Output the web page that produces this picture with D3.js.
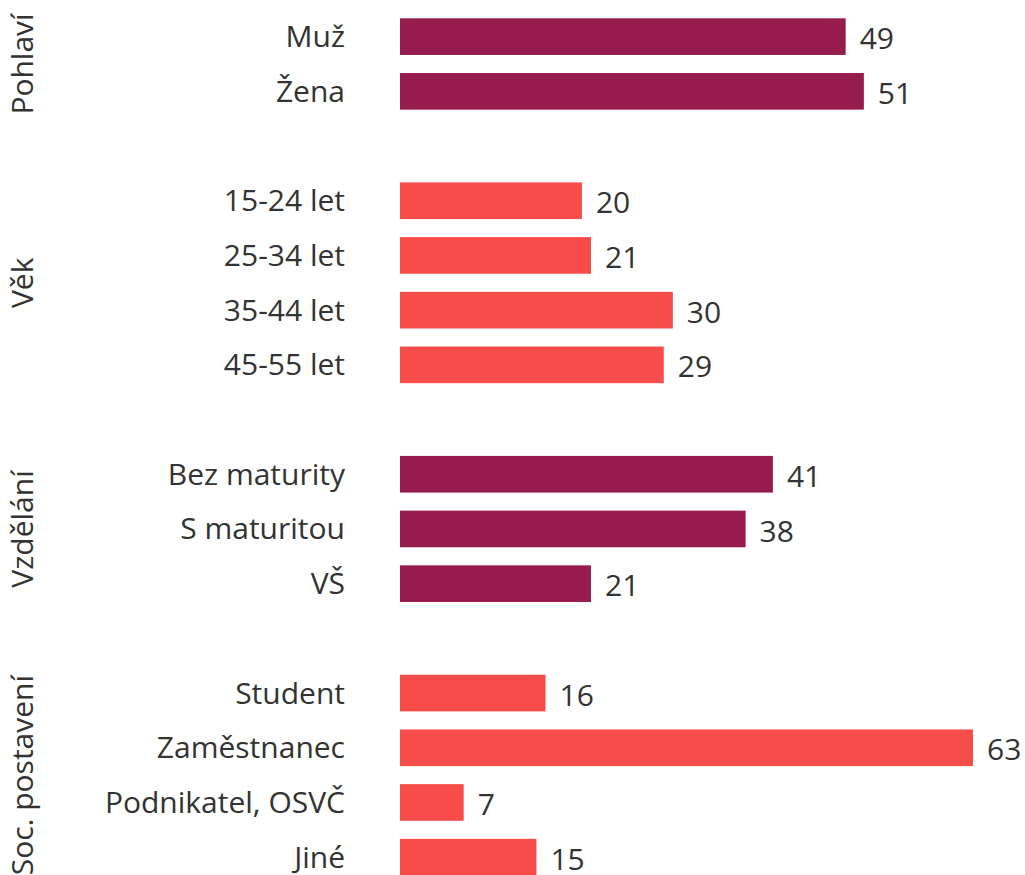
<!DOCTYPE html>
<html>
<head>
<meta charset="utf-8">
<script src="https://cdn.jsdelivr.net/npm/d3@7"></script>
<style>
	body{margin:0;background:#fff;}
	text{font-family:"Open Sans","Noto Sans",sans-serif;fill:#333;}
</style>
</head>
<body>
<div id="chart"></div>
<script>
//survey profile - horizontal bars per group
var groups=["Pohlaví","Věk","Vzdělání","Soc. postavení"];
var groupColors=["#961c50","#f64c4a","#961c50","#f64c4a"];
var pohlaviLabels=["Muž","Žena"];
var pohlaviValues=[49,51];
var vekLabels=["15-24 let","25-34 let","35-44 let","45-55 let"];
var vekValues=[20,21,30,29];
var vzdelaniLabels=["Bez maturity","S maturitou","VŠ"];
var vzdelaniValues=[41,38,21];
var socLabels=["Student","Zaměstnanec","Podnikatel, OSVČ","Jiné"];
var socValues=[16,63,7,15];

var width=1025,height=875;
var fontSize=30;

//build rows, one empty row between groups
var rows=[];
var groupRows=[];
[[pohlaviLabels,pohlaviValues],[vekLabels,vekValues],[vzdelaniLabels,vzdelaniValues],[socLabels,socValues]].forEach(function(g,gi){
	if(gi>0) rows.push({key:"gap"+gi,gap:true});
	var first=rows.length;
	g[0].forEach(function(l,i){
		rows.push({key:l,label:l,value:g[1][i],group:gi});
	});
	groupRows.push({name:groups[gi],first:rows[first].key,last:rows[rows.length-1].key});
});

var svg=d3.select("#chart").append("svg")
	.attr("width",width)
	.attr("height",height);

var y=d3.scaleBand()
	.domain(rows.map(function(d){return d.key;}))
	.range([18.3,875.5])
	.paddingInner(0.33)
	.paddingOuter(0);
var x=d3.scaleLinear()
	.domain([0,63])
	.range([400,973]);

var data=rows.filter(function(d){return !d.gap;});

svg.selectAll("rect.bar")
	.data(data)
	.enter().append("rect")
	.attr("class","bar")
	.attr("x",x(0))
	.attr("y",function(d){return y(d.key);})
	.attr("width",function(d){return x(d.value)-x(0);})
	.attr("height",y.bandwidth())
	.attr("fill",function(d){return groupColors[d.group];});

//category labels
svg.selectAll("text.cat")
	.data(data)
	.enter().append("text")
	.attr("class","cat")
	.attr("x",345)
	.attr("y",function(d){return y(d.key)+y.bandwidth()/2;})
	.attr("dy","0.35em")
	.attr("text-anchor","end")
	.style("font-size",fontSize+"px")
	.text(function(d){return d.label;});

//value labels
svg.selectAll("text.val")
	.data(data)
	.enter().append("text")
	.attr("class","val")
	.attr("x",function(d){return x(d.value)+14;})
	.attr("y",function(d){return y(d.key)+y.bandwidth()/2;})
	.attr("dy","0.42em")
	.style("font-size",fontSize+"px")
	.text(function(d){return d.value;});

//group labels (rotated)
svg.selectAll("text.grp")
	.data(groupRows)
	.enter().append("text")
	.attr("class","grp")
	.attr("transform",function(d){
		var cy=(y(d.first)+y(d.last)+y.bandwidth())/2;
		return "translate(33,"+cy+") rotate(-90)";
	})
	.attr("text-anchor","middle")
	.style("font-size",fontSize+"px")
	.text(function(d){return d.name;});
</script>
</body>
</html>
